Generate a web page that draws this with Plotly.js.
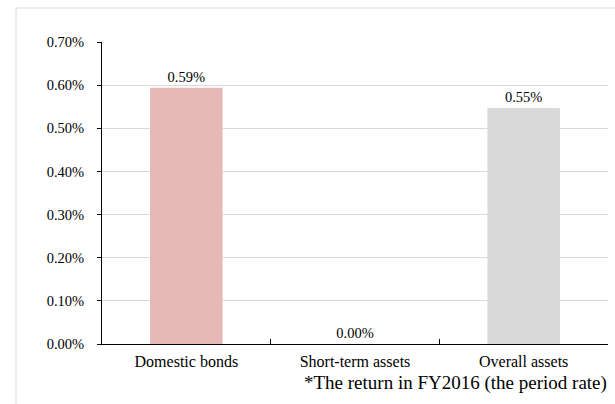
<!DOCTYPE html>
<html>
<head>
<meta charset="utf-8">
<script src="https://cdn.plot.ly/plotly-3.0.1.min.js"></script>
<style>html,body{margin:0;padding:0;background:#fff;}#chart{width:615px;height:404px;}</style>
</head>
<body>
<div id="chart"></div>
<script>
const categories = ["Domestic bonds", "Short-term assets", "Overall assets"];
const returns = [0.594, 0.0, 0.547];
const labels = ["0.59%", "0.00%", "0.55%"];
const barColors = ["#E6B9B8", "#D9D9D9", "#D9D9D9"];
const yTicks = [0, 0.1, 0.2, 0.3, 0.4, 0.5, 0.6, 0.7];
const yTickText = ["0.00%", "0.10%", "0.20%", "0.30%", "0.40%", "0.50%", "0.60%", "0.70%"];
const footnote = "*The return in FY2016 (the period rate)";

const fam = "Liberation Serif, Times New Roman, serif";
const font = {family: fam, color: "#000", size: 14.5};

const trace = {
  type: "bar",
  x: categories,
  y: returns,
  marker: {color: barColors},
  text: labels,
  textposition: "outside",
  textfont: font,
  cliponaxis: false,
  hoverinfo: "none"
};

const layout = {
  width: 615, height: 404,
  margin: {l: 102, r: 7, t: 42, b: 60},
  paper_bgcolor: "#fff", plot_bgcolor: "#fff",
  font: font,
  showlegend: false,
  bargap: 0.57,
  xaxis: {
    showline: true, linecolor: "#000", linewidth: 1,
    ticks: "inside", ticklen: 5, tickcolor: "#000", tickson: "boundaries",
    showgrid: false, tickfont: {family: fam, color: "#000", size: 16},
    ticklabelstandoff: 3, fixedrange: true
  },
  yaxis: {
    range: [0, 0.7], tickvals: yTicks, ticktext: yTickText,
    showline: true, linecolor: "#000", linewidth: 1,
    ticks: "outside", ticklen: 4, tickcolor: "#000",
    showgrid: true, gridcolor: "#D9D9D9", gridwidth: 1,
    zeroline: false, tickfont: font, ticklabelstandoff: 10, fixedrange: true
  },
  shapes: [{
    type: "rect", xref: "paper", yref: "paper",
    x0: -0.170, x1: 1.03, y0: -0.25, y1: 1.1126,
    line: {color: "#D9D9D9", width: 1}, fillcolor: "rgba(0,0,0,0)", layer: "below"
  }],
  annotations: [{
    text: footnote, xref: "paper", yref: "paper",
    x: 1.0, y: -0.088, xanchor: "right", yanchor: "top", borderpad: 0,
    showarrow: false, font: {family: fam, size: 19, color: "#000"}
  }]
};

Plotly.newPlot("chart", [trace], layout, {displayModeBar: false, staticPlot: true});
</script>
</body>
</html>
